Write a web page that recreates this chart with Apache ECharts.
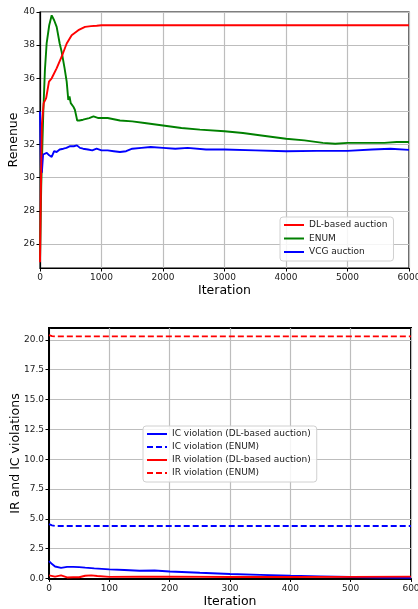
<!DOCTYPE html>
<html>
<head>
<meta charset="utf-8">
<script src="https://cdn.jsdelivr.net/npm/echarts@6/dist/echarts.min.js"></script>
<style>
  html, body { margin: 0; padding: 0; background: #fff; }
  #chart { width: 418px; height: 609px; }
</style>
</head>
<body>
<div id="chart"></div>
<script>
// top panel: revenue vs iteration
var dlIter = [0, 15, 30, 60, 100, 146, 190, 270, 352, 434, 515, 623, 732, 830, 922, 1000, 1500, 2000, 3000, 4000, 5000, 6000];
var dlRev = [24.9, 29.5, 33.2, 34.5, 34.8, 35.8, 36.0, 36.6, 37.3, 38.1, 38.6, 38.9, 39.1, 39.15, 39.17, 39.2, 39.2, 39.2, 39.2, 39.2, 39.2, 39.2];

var enumIter = [0, 20, 54, 80, 108, 150, 190, 230, 271, 320, 352, 400, 434, 460, 480, 500, 520, 540, 567, 585, 605, 640, 700, 800, 870, 950, 1100, 1300, 1500, 1700, 2000, 2300, 2600, 3000, 3300, 3600, 4000, 4300, 4600, 4800, 5000, 5300, 5600, 5800, 6000];
var enumRev = [25.0, 29.5, 34.0, 36.5, 38.1, 39.2, 39.8, 39.5, 39.1, 38.1, 37.6, 36.6, 35.8, 34.7, 34.9, 34.5, 34.6, 34.3, 34.1, 33.8, 33.45, 33.45, 33.5, 33.6, 33.7, 33.6, 33.6, 33.45, 33.4, 33.3, 33.15, 33.0, 32.9, 32.8, 32.7, 32.55, 32.35, 32.25, 32.1, 32.05, 32.1, 32.1, 32.1, 32.15, 32.15];

var vcgIter = [0, 15, 30, 50, 80, 110, 150, 190, 230, 270, 320, 380, 430, 490, 550, 600, 650, 700, 780, 850, 920, 1000, 1100, 1200, 1300, 1400, 1500, 1650, 1800, 2000, 2200, 2400, 2700, 3000, 3500, 4000, 4500, 5000, 5400, 5700, 6000];
var vcgRev = [34.0, 30.6, 30.3, 31.4, 31.3, 31.5, 31.35, 31.25, 31.6, 31.55, 31.7, 31.75, 31.8, 31.9, 31.9, 31.95, 31.8, 31.75, 31.7, 31.65, 31.75, 31.65, 31.65, 31.6, 31.55, 31.6, 31.75, 31.8, 31.85, 31.8, 31.75, 31.8, 31.7, 31.7, 31.65, 31.6, 31.62, 31.62, 31.7, 31.75, 31.68];

var topYTicks = [26, 28, 30, 32, 34, 36, 38, 40];

// bottom panel: violations vs iteration
var icDlIter = [0, 5, 10, 20, 30, 40, 50, 60, 75, 100, 125, 150, 175, 200, 250, 300, 350, 400, 450, 500, 550, 600];
var icDlVal = [1.45, 1.2, 1.0, 0.88, 0.97, 0.97, 0.95, 0.9, 0.84, 0.76, 0.7, 0.64, 0.66, 0.58, 0.47, 0.37, 0.3, 0.22, 0.17, 0.12, 0.08, 0.05];
var icEnumIter = [0, 5, 10, 600];
var icEnumVal = [4.55, 4.45, 4.4, 4.4];
var irDlIter = [0, 10, 20, 30, 40, 50, 60, 70, 80, 100, 150, 200, 300, 400, 500, 600];
var irDlVal = [0.25, 0.15, 0.25, 0.08, 0.1, 0.1, 0.22, 0.25, 0.2, 0.13, 0.14, 0.15, 0.12, 0.12, 0.13, 0.15];
var irEnumIter = [0, 5, 10, 600];
var irEnumVal = [20.4, 20.32, 20.3, 20.3];

var botYTicks = [0, 2.5, 5, 7.5, 10, 12.5, 15, 17.5, 20];

var font = "DejaVu Sans";

function zip(xs, ys) {
  return xs.map(function (x, i) { return [x, ys[i]]; });
}

function lineSeries(name, xs, ys, color, idx, dashed) {
  return {
    type: "line",
    name: name,
    data: zip(xs, ys),
    xAxisIndex: idx,
    yAxisIndex: idx,
    symbol: "none",
    color: color,
    lineStyle: { color: color, width: 1.9, type: dashed ? [6, 3] : "solid" },
  };
}

function valueAxis(opts) {
  return Object.assign({
    type: "value",
    axisLine: { show: true, lineStyle: { color: "#000", width: 1.2 } },
    axisTick: { show: true, length: 3.5, lineStyle: { color: "#000" } },
    axisLabel: {
      color: "#1a1a1a", fontSize: 9, fontFamily: font, margin: 5,
      formatter: function (v) { return String(v); },
    },
    splitLine: { show: true, lineStyle: { color: "#bdbdbd", width: 1.2 } },
    nameLocation: "middle",
    nameMoveOverlap: false,
    nameTextStyle: { color: "#000", fontSize: 12.5, fontFamily: font },
  }, opts);
}

var legendBase = {
  orient: "vertical",
  itemWidth: 20,
  itemHeight: 10,
  itemStyle: { opacity: 0 },
  borderColor: "#d0d0d0",
  borderWidth: 1,
  borderRadius: 3,
  backgroundColor: "rgba(255,255,255,0.85)",
  textStyle: { color: "#1a1a1a", fontSize: 9, fontFamily: font, lineHeight: 10 },
  selectedMode: false,
};

var option = {
  animation: false,
  backgroundColor: "#fff",
  grid: [
    { left: 40, top: 12, width: 369, height: 256, outerBoundsMode: "none", containLabel: false, show: true, borderColor: "#000", borderWidth: 1.2, backgroundColor: "transparent" },
    { left: 49, top: 328, width: 362, height: 251, outerBoundsMode: "none", containLabel: false, show: true, borderColor: "#000", borderWidth: 2, backgroundColor: "transparent" },
  ],
  xAxis: [
    valueAxis({ gridIndex: 0, min: 0, max: 6000, interval: 1000, name: "Iteration", nameGap: 16 }),
    valueAxis({ gridIndex: 1, min: 0, max: 600, interval: 100, name: "Iteration", nameGap: 16 }),
  ],
  yAxis: [
    valueAxis({
      gridIndex: 0, min: 24.55, max: 40, name: "Renenue", nameGap: 20,
      axisTick: { show: true, length: 3.5, lineStyle: { color: "#000" }, customValues: topYTicks },
      axisLabel: { color: "#1a1a1a", fontSize: 9, fontFamily: font, margin: 5, customValues: topYTicks },
    }),
    valueAxis({
      gridIndex: 1, min: -0.05, max: 21, name: "IR and IC violations", nameGap: 27,
      axisLine: { show: true, lineStyle: { color: "#000", width: 2 } },
      axisTick: { show: true, length: 3.5, lineStyle: { color: "#000" }, customValues: botYTicks },
      axisLabel: {
        color: "#1a1a1a", fontSize: 9, fontFamily: font, margin: 5, customValues: botYTicks,
        formatter: function (v) { return Number(v).toFixed(1); },
      },
    }),
  ],
  legend: [
    Object.assign({}, legendBase, {
      left: 280, top: 217, padding: [3, 6, 4, 3], itemGap: 3.5,
      data: ["DL-based auction", "ENUM", "VCG auction"],
    }),
    Object.assign({}, legendBase, {
      left: 143, top: 426, padding: [3, 6, 4, 3], itemGap: 3,
      data: ["IC violation (DL-based auction)", "IC violation (ENUM)", "IR violation (DL-based auction)", "IR violation (ENUM)"],
    }),
  ],
  series: [
    lineSeries("ENUM", enumIter, enumRev, "#008000", 0, false),
    lineSeries("VCG auction", vcgIter, vcgRev, "#0000ff", 0, false),
    lineSeries("DL-based auction", dlIter, dlRev, "#ff0000", 0, false),
    lineSeries("IC violation (DL-based auction)", icDlIter, icDlVal, "#0000ff", 1, false),
    lineSeries("IC violation (ENUM)", icEnumIter, icEnumVal, "#0000ff", 1, true),
    lineSeries("IR violation (DL-based auction)", irDlIter, irDlVal, "#ff0000", 1, false),
    lineSeries("IR violation (ENUM)", irEnumIter, irEnumVal, "#ff0000", 1, true),
  ],
};

var chart = echarts.init(document.getElementById("chart"), null, { renderer: "canvas" });
chart.setOption(option);
</script>
</body>
</html>
